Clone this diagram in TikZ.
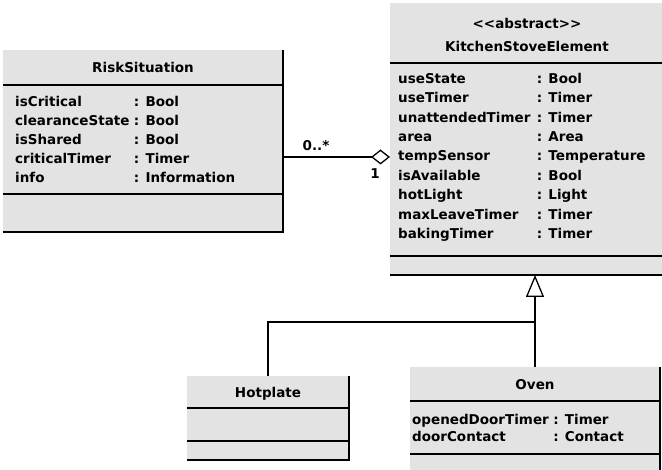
\documentclass[tikz,border=0pt]{standalone}
\usepackage{fontspec}
\setmainfont{DejaVu Sans}
\usepackage{tikz}
\usetikzlibrary{arrows.meta}

\begin{document}
\begin{tikzpicture}[
    x=1pt,
    y=-1pt,
    font=\fontsize{13.5}{16}\selectfont\bfseries,
    classbox/.style={fill=black!11,inner sep=0pt,outer sep=0pt,anchor=north west},
    clsname/.style={anchor=base,inner sep=0pt},
    attr/.style={anchor=base west,inner sep=0pt},
    umlline/.style={line width=1.5pt},
    aggregation/.style={line width=1.3pt,-{Diamond[open,length=19pt,width=15pt,line width=1.3pt]}},
    generalization/.style={umlline,-{Triangle[open,length=22pt,width=18pt,line width=1.3pt]}},
    mult/.style={inner sep=0pt}
]
\useasboundingbox (0,0) rectangle (662,470);

% Class boxes.
\node[classbox,minimum width=280pt,minimum height=182pt] (risk) at (3,50) {};
\node[classbox,minimum width=275pt,minimum height=272pt] (kitchen) at (390,3) {};
\node[classbox,minimum width=162pt,minimum height=84pt] (hotplate) at (187,376) {};
\node[classbox,minimum width=250pt,minimum height=110pt] (oven) at (410,367) {};

% Borders and compartment lines.
\draw[umlline] (risk.north east) -- (risk.south east) -- (risk.south west);
\draw[umlline] (risk.west |- 0,85) -- (risk.east |- 0,85);
\draw[umlline] (risk.west |- 0,194) -- (risk.east |- 0,194);
\draw[umlline] (kitchen.west |- 0,63) -- (kitchen.east |- 0,63);
\draw[umlline] (kitchen.west |- 0,256) -- (kitchen.east |- 0,256);
\draw[umlline] (kitchen.south west) -- (kitchen.south east);
\draw[umlline] (hotplate.north east) -- (hotplate.south east) -- (hotplate.south west);
\draw[umlline] (hotplate.west |- 0,408) -- (hotplate.east |- 0,408);
\draw[umlline] (hotplate.west |- 0,441) -- (hotplate.east |- 0,441);
\draw[umlline] (oven.north east) -- (oven.south east);
\draw[umlline] (oven.west |- 0,401) -- (oven.east |- 0,401);
\draw[umlline] (oven.west |- 0,454) -- (oven.east |- 0,454);

% RiskSituation.
\node[clsname] (risk-name) at (risk.north |- 0,73) {RiskSituation};
\node[attr] (risk-a1) at (15,107) {isCritical};
\node[attr] (risk-a2) at (15,126) {clearanceState};
\node[attr] (risk-a3) at (15,145) {isShared};
\node[attr] (risk-a4) at (15,164) {criticalTimer};
\node[attr] (risk-a5) at (15,183) {info};
\coordinate (risk-col) at ([xshift=4pt]risk-a2.base east);
\node[attr] (risk-t1) at (risk-col |- risk-a1.base) {: Bool};
\node[attr] (risk-t2) at (risk-col |- risk-a2.base) {: Bool};
\node[attr] (risk-t3) at (risk-col |- risk-a3.base) {: Bool};
\node[attr] (risk-t4) at (risk-col |- risk-a4.base) {: Timer};
\node[attr] (risk-t5) at (risk-col |- risk-a5.base) {: Information};

% KitchenStoveElement.
\node[clsname] (kitchen-stereo) at (527,29) {<{}<abstract>{}>};
\node[clsname] (kitchen-name) at (527,52) {KitchenStoveElement};
\node[attr] (kitchen-a1) at (398,84) {useState};
\node[attr] (kitchen-a2) at (398,103) {useTimer};
\node[attr] (kitchen-a3) at (398,123) {unattendedTimer};
\node[attr] (kitchen-a4) at (398,142) {area};
\node[attr] (kitchen-a5) at (398,161) {tempSensor};
\node[attr] (kitchen-a6) at (398,181) {isAvailable};
\node[attr] (kitchen-a7) at (398,200) {hotLight};
\node[attr] (kitchen-a8) at (398,220) {maxLeaveTimer};
\node[attr] (kitchen-a9) at (398,239) {bakingTimer};
\coordinate (kitchen-col) at ([xshift=6pt]kitchen-a3.base east);
\node[attr] (kitchen-t1) at (kitchen-col |- kitchen-a1.base) {: Bool};
\node[attr] (kitchen-t2) at (kitchen-col |- kitchen-a2.base) {: Timer};
\node[attr] (kitchen-t3) at (kitchen-col |- kitchen-a3.base) {: Timer};
\node[attr] (kitchen-t4) at (kitchen-col |- kitchen-a4.base) {: Area};
\node[attr] (kitchen-t5) at (kitchen-col |- kitchen-a5.base) {: Temperature};
\node[attr] (kitchen-t6) at (kitchen-col |- kitchen-a6.base) {: Bool};
\node[attr] (kitchen-t7) at (kitchen-col |- kitchen-a7.base) {: Light};
\node[attr] (kitchen-t8) at (kitchen-col |- kitchen-a8.base) {: Timer};
\node[attr] (kitchen-t9) at (kitchen-col |- kitchen-a9.base) {: Timer};

% Hotplate and Oven.
\node[clsname] (hotplate-name) at (hotplate.north |- 0,398) {Hotplate};
\node[clsname] (oven-name) at (oven.north |- 0,390) {Oven};
\node[attr] (oven-a1) at (412,425) {openedDoorTimer};
\node[attr] (oven-a2) at (412,442) {doorContact};
\coordinate (oven-col) at ([xshift=4pt]oven-a1.base east);
\node[attr] (oven-t1) at (oven-col |- oven-a1.base) {: Timer};
\node[attr] (oven-t2) at (oven-col |- oven-a2.base) {: Contact};

% Aggregation.
\coordinate (agg) at (kitchen.west |- 0,157);
\draw[aggregation] (risk.east |- agg) -- (agg);
\node[mult] (mult-many) at (316,146) {0..*};
\node[mult] (mult-one) at (375,174) {1};

% Generalization.
\coordinate (gen) at (oven.north |- 0,322);
\draw[generalization] (oven.north) -- (oven.north |- kitchen.south);
\draw[umlline] (hotplate.north) |- (gen);

\end{tikzpicture}
\end{document}
